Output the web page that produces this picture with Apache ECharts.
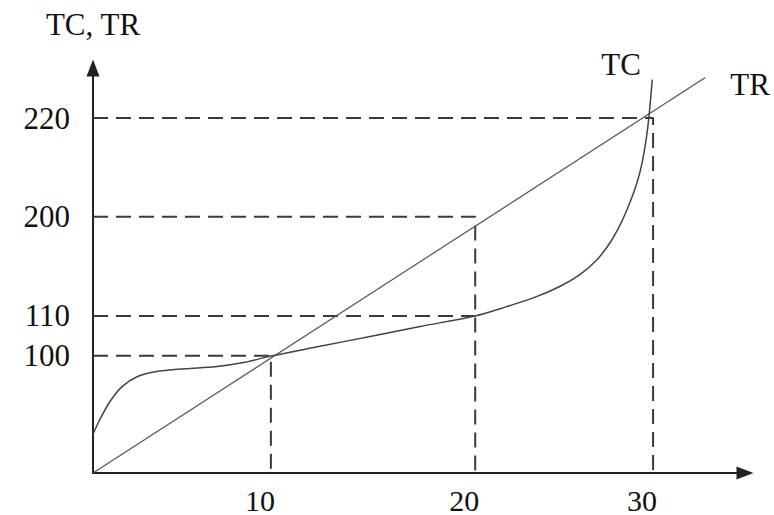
<!DOCTYPE html>
<html><head><meta charset="utf-8">
<script src="https://cdn.jsdelivr.net/npm/echarts@6/dist/echarts.min.js"></script>
<style>html,body{margin:0;padding:0;background:#fff}#c{width:774px;height:515px}</style>
</head><body><div id="c"></div>
<script>
// Schematic diagram: both axes use drawing units (share of the drawn axis length, 0..~100).
const xTickLabels = ['10', '20', '30'];
const xTickPos = [26.9, 57.8, 84.7];
const yTickLabels = ['100', '110', '200', '220'];
const yTickPos = [28.4, 38.0, 62.0, 85.9];
// dashed guides: [x tick index, y tick index, draw vertical drop]
const guides = [[0, 0, true], [1, 1, false], [1, 2, true], [2, 3, true]];
const trLine = [[0, 0], [92.6, 95.7]];
const tcCurve = [
  [0, 9.4], [1.06, 13.0], [2.57, 17.3], [4.39, 20.9], [6.66, 23.3], [9.38, 24.5],
  [13.92, 25.24], [18.46, 25.72], [23.0, 26.8], [26.9, 28.3], [34.34, 30.65],
  [41.91, 33.05], [49.47, 35.46], [57.8, 38.0], [62.33, 40.14], [66.87, 42.55],
  [70.65, 45.19], [73.68, 48.08], [76.25, 51.68], [78.21, 55.77], [79.88, 60.58],
  [81.24, 65.63], [82.3, 70.43], [83.06, 75.24], [83.66, 80.77], [84.11, 86.78],
  [84.57, 95.19]
];

const FONT = 'Liberation Serif';
const chart = echarts.init(document.getElementById('c'), null, {renderer: 'svg'});

const guideSeries = guides.map(([xi, yi, drop]) => {
  const x = xTickPos[xi], y = yTickPos[yi];
  const pts = drop ? [[0, y], [x, y], [x, 0]] : [[0, y], [x, y]];
  return {
    type: 'line', data: pts, symbol: 'none', silent: true, z: 1,
    lineStyle: {color: '#3a3a3a', width: 2, type: [15, 8]}
  };
});

chart.setOption({
  animation: false,
  grid: {left: 93, right: 29, top: 68, bottom: 39, containLabel: false},
  xAxis: {
    type: 'value', min: 0, max: 98.6,
    axisLine: {show: true, symbol: ['none', 'triangle'], symbolSize: [13, 17],
      lineStyle: {color: '#222', width: 2}},
    axisTick: {show: false}, splitLine: {show: false},
    axisLabel: {
      customValues: xTickPos,
      formatter: v => xTickLabels[xTickPos.indexOf(v)] || '',
      fontFamily: FONT, fontSize: 30, lineHeight: 22, color: '#111', margin: 16,
      padding: [0, 22, 0, 0]
    }
  },
  yAxis: {
    type: 'value', min: 0, max: 98,
    name: 'TC, TR', nameLocation: 'end', nameGap: 28,
    nameTextStyle: {fontFamily: FONT, fontSize: 31, color: '#111'},
    axisLine: {show: true, symbol: ['none', 'triangle'], symbolSize: [13, 17],
      lineStyle: {color: '#222', width: 2}},
    axisTick: {show: false}, splitLine: {show: false},
    axisLabel: {
      customValues: yTickPos,
      formatter: v => yTickLabels[yTickPos.indexOf(v)] || '',
      fontFamily: FONT, fontSize: 31, color: '#111', margin: 23, padding: [12, 0, 0, 0]
    }
  },
  series: [
    ...guideSeries,
    {
      name: 'TR', type: 'line', data: trLine, symbol: 'none', z: 3,
      lineStyle: {color: '#555', width: 1.2},
      endLabel: {show: true, formatter: '{a}', fontFamily: FONT, fontSize: 31, color: '#111',
        offset: [17, 7]}
    },
    {
      name: 'TC', type: 'line', data: tcCurve, symbol: 'none', smooth: 0.3, z: 3,
      lineStyle: {color: '#444', width: 1.5},
      endLabel: {show: true, formatter: '{a}', fontFamily: FONT, fontSize: 31, color: '#111',
        offset: [-59, -15]}
    }
  ]
});
</script></body></html>
